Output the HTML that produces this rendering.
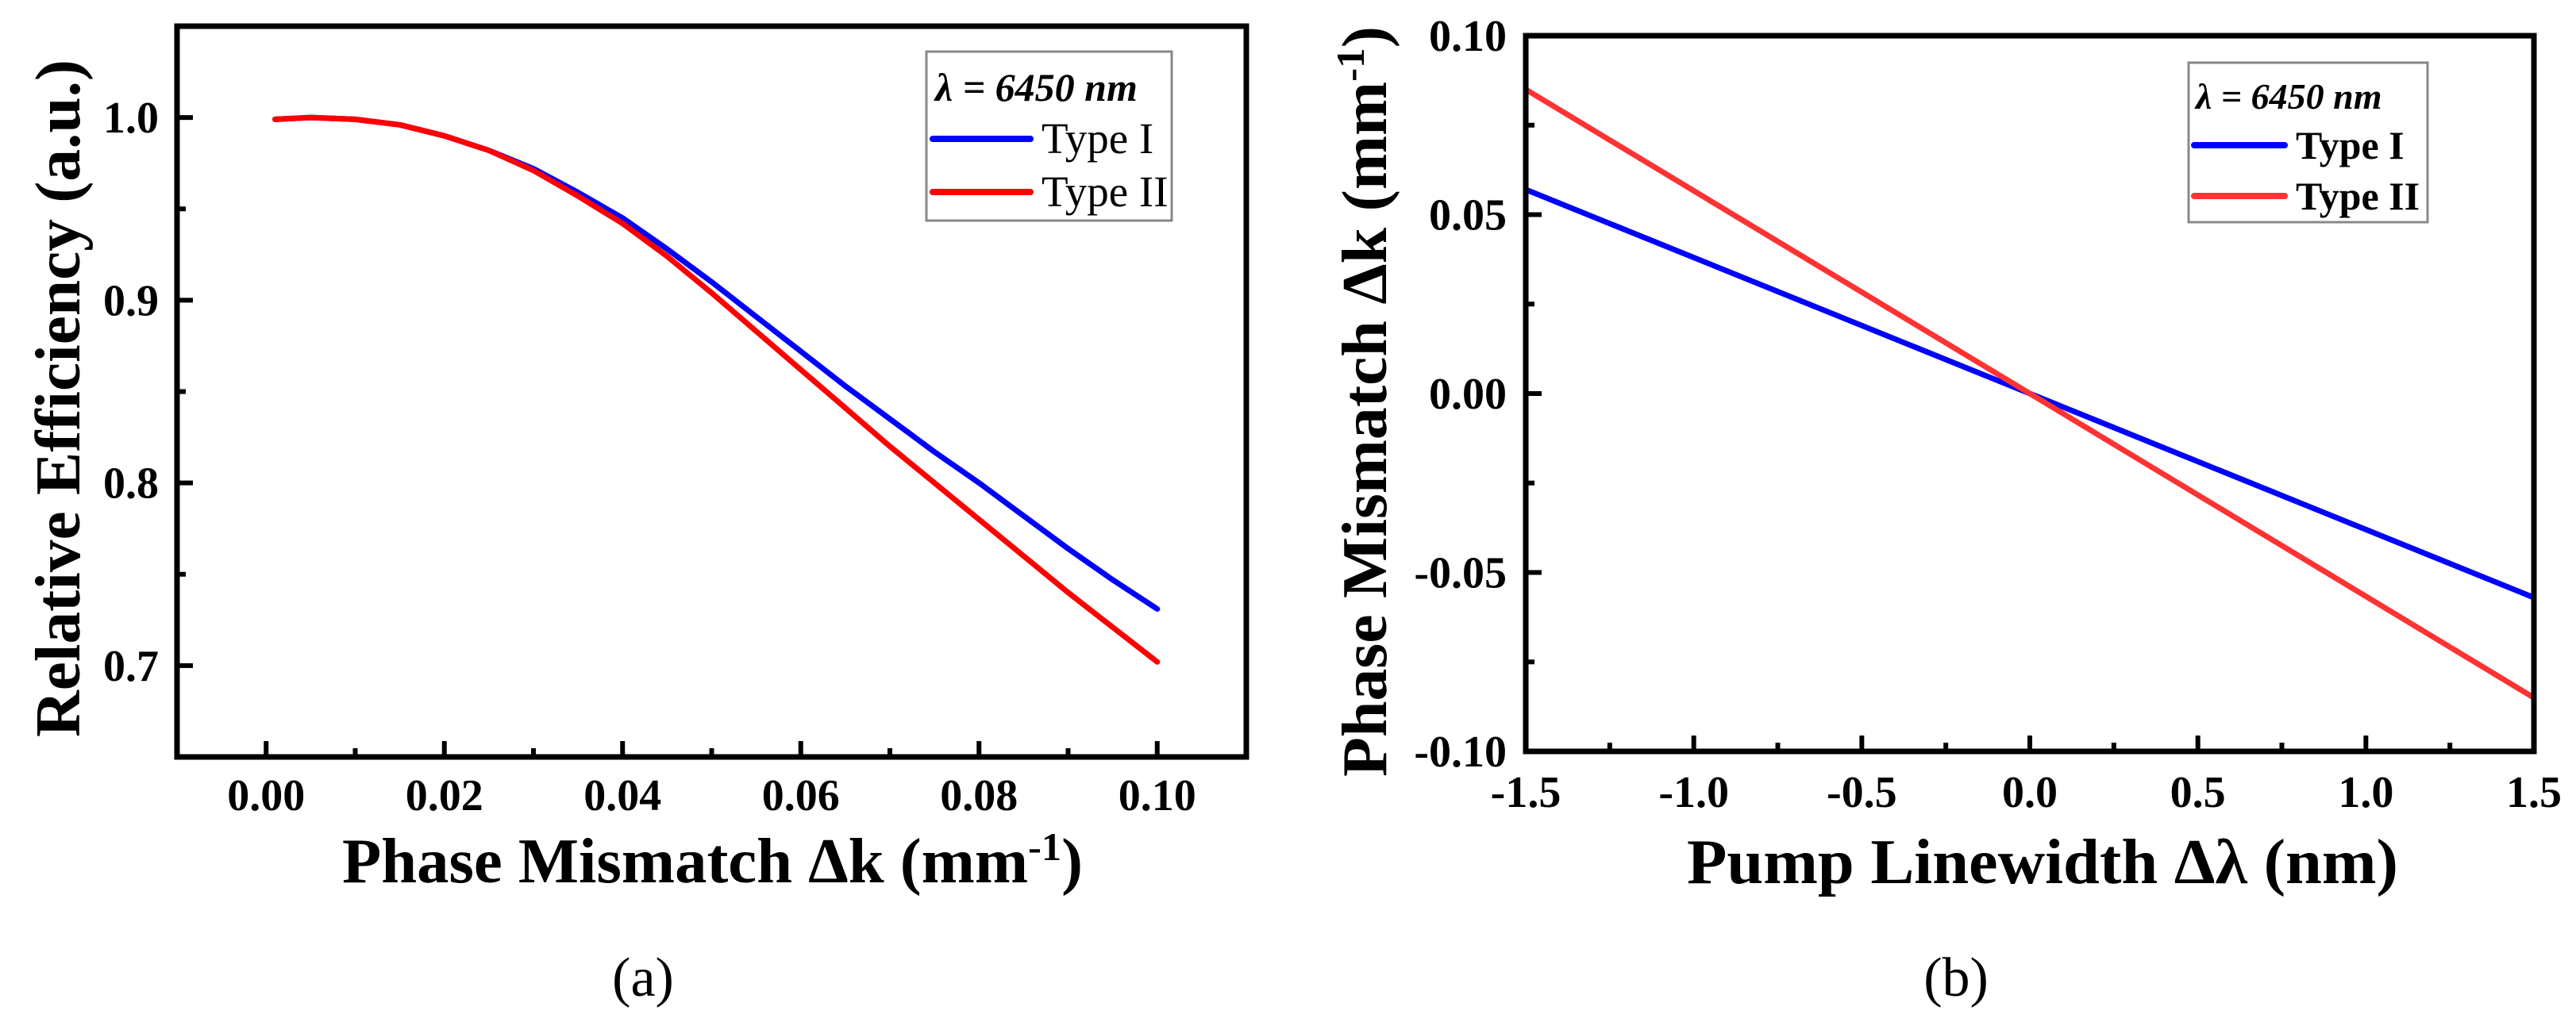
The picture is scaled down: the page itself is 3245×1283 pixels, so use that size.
<!DOCTYPE html>
<html><head><meta charset="utf-8"><style>
html,body{margin:0;padding:0;background:#fff;}
svg{display:block;font-family:"Liberation Serif",serif;}
</style></head><body>
<svg id="fig" width="3245" height="1283" viewBox="0 0 3245 1283" xmlns="http://www.w3.org/2000/svg">
<rect width="3245" height="1283" fill="#fff"/>
<g id="pa"></g>
<g id="pb"></g>
<g font-family="Liberation Serif, serif">
<text x="431" y="1112" font-size="80" font-weight="bold" textLength="933" lengthAdjust="spacingAndGlyphs">Phase Mismatch Δk (mm<tspan dy="-28" font-size="50">-1</tspan><tspan dy="28">)</tspan></text>
<text transform="translate(100,502) rotate(-90)" text-anchor="middle" font-size="80" font-weight="bold" textLength="854" lengthAdjust="spacingAndGlyphs">Relative Efficiency (a.u.)</text>
<text x="810" y="1255" text-anchor="middle" font-size="70">(a)</text>
<g>
<rect x="1167" y="65" width="309" height="213" fill="#fff" stroke="#888" stroke-width="3"/>
<text x="1178" y="127" font-size="50" font-weight="bold" font-style="italic">λ = 6450 nm</text>
<line x1="1175" x2="1298" y1="175" y2="175" stroke="#0000ff" stroke-width="8" stroke-linecap="round"/>
<text x="1312" y="193" font-size="55">Type I</text>
<line x1="1175" x2="1298" y1="242" y2="242" stroke="#ff0000" stroke-width="8" stroke-linecap="round"/>
<text x="1312" y="260" font-size="55">Type II</text>
</g>
<text x="2125" y="1113" font-size="80" font-weight="bold" textLength="896" lengthAdjust="spacingAndGlyphs">Pump Linewidth Δλ (nm)</text>
<text transform="translate(1746,506) rotate(-90)" text-anchor="middle" font-size="80" font-weight="bold" textLength="946" lengthAdjust="spacingAndGlyphs">Phase Mismatch Δk (mm<tspan dy="-28" font-size="50">-1</tspan><tspan dy="28">)</tspan></text>
<text x="2464" y="1255" text-anchor="middle" font-size="70">(b)</text>
<g>
<rect x="2757" y="79" width="301" height="201" fill="#fff" stroke="#888" stroke-width="3"/>
<text x="2766" y="137" font-size="46" font-weight="bold" font-style="italic">λ = 6450 nm</text>
<line x1="2764" x2="2878" y1="183" y2="183" stroke="#0000ff" stroke-width="8" stroke-linecap="round"/>
<text x="2892" y="200" font-size="50" font-weight="bold">Type I</text>
<line x1="2764" x2="2878" y1="247" y2="247" stroke="#ff3333" stroke-width="8" stroke-linecap="round"/>
<text x="2892" y="264" font-size="50" font-weight="bold">Type II</text>
</g>
</g>
</svg>
<script>
// Panel (a) data
const aX = [0.001,0.005,0.01,0.015,0.02,0.025,0.03,0.035,0.04,0.045,0.05,0.055,0.06,0.065,0.07,0.075,0.08,0.085,0.09,0.095,0.1];
const aType1 = [0.999,1.0,0.999,0.996,0.99,0.982,0.972,0.959,0.945,0.928,0.91,0.891,0.872,0.853,0.835,0.817,0.8,0.782,0.764,0.747,0.731];
const aType2 = [0.999,1.0,0.999,0.996,0.99,0.982,0.971,0.957,0.942,0.924,0.904,0.883,0.862,0.841,0.82,0.8,0.78,0.76,0.74,0.721,0.702];
const aXTicks = [0,0.02,0.04,0.06,0.08,0.10];
const aXTickLabels = ["0.00","0.02","0.04","0.06","0.08","0.10"];
const aYTicks = [0.7,0.8,0.9,1.0];
const aYTickLabels = ["0.7","0.8","0.9","1.0"];
// Panel (b) data
const bX = [-1.5,0,1.5];
const bType1 = [0.057,0,-0.057];
const bType2 = [0.085,0,-0.085];
const bXTicks = [-1.5,-1.0,-0.5,0,0.5,1.0,1.5];
const bXTickLabels = ["-1.5","-1.0","-0.5","0.0","0.5","1.0","1.5"];
const bYTicks = [-0.10,-0.05,0,0.05,0.10];
const bYTickLabels = ["-0.10","-0.05","0.00","0.05","0.10"];

const NS="http://www.w3.org/2000/svg";
function mk(parent,tag,attrs,text){const e=document.createElementNS(NS,tag);for(const k in attrs)e.setAttribute(k,attrs[k]);if(text!==undefined)e.textContent=text;parent.appendChild(e);return e;}

function panel(g,cfg){
  const sx=v=>cfg.L+(v-cfg.x0)/(cfg.x1-cfg.x0)*(cfg.R-cfg.L);
  const sy=v=>cfg.B-(v-cfg.y0)/(cfg.y1-cfg.y0)*(cfg.B-cfg.T);
  cfg.series.forEach(s=>{
    const d=s.y.map((v,i)=>(i?'L':'M')+sx(cfg.xs[i]).toFixed(1)+','+sy(v).toFixed(1)).join(' ');
    const p=mk(g,'path',{d:d,fill:'none',stroke:s.color,'stroke-width':7,'stroke-linejoin':'round','stroke-linecap':'round'});
    
    
  });
  const fr=mk(g,'rect',{x:cfg.L,y:cfg.T,width:cfg.R-cfg.L,height:cfg.B-cfg.T,fill:'none',stroke:'#000','stroke-width':7});
  
  
  cfg.xt.forEach((v,i)=>{
    const x=sx(v);
    const t=mk(g,'line',{x1:x,x2:x,y1:cfg.B,y2:cfg.B-20,stroke:'#000','stroke-width':6});
    
    
    const l=mk(g,'text',{x:x,y:cfg.xly,'text-anchor':'middle','font-size':56,'font-weight':'bold'},cfg.xtl[i]);
    
    
    if(i<cfg.xt.length-1){
      const xm=sx((v+cfg.xt[i+1])/2);
      const m=mk(g,'line',{x1:xm,x2:xm,y1:cfg.B,y2:cfg.B-11,stroke:'#000','stroke-width':6});
      
      
    }
  });
  cfg.yt.forEach((v,i)=>{
    const y=sy(v);
    const t=mk(g,'line',{x1:cfg.L,x2:cfg.L+20,y1:y,y2:y,stroke:'#000','stroke-width':6});
    
    
    const l=mk(g,'text',{x:cfg.ylx,y:y+19,'text-anchor':'end','font-size':56,'font-weight':'bold'},cfg.ytl[i]);
    
    
  });
  cfg.ymin.forEach(v=>{
    const y=sy(v);
    const m=mk(g,'line',{x1:cfg.L,x2:cfg.L+11,y1:y,y2:y,stroke:'#000','stroke-width':6});
    
    
  });
}

panel(document.getElementById('pa'),{L:223,R:1570,T:33,B:954,x0:-0.01,x1:0.11,y0:0.65,y1:1.05,xs:aX,
  series:[{y:aType1,color:'#0000ff',name:'type-i-line'},{y:aType2,color:'#ff0000',name:'type-ii-line'}],
  xt:aXTicks,xtl:aXTickLabels,xly:1021,yt:aYTicks,ytl:aYTickLabels,ylx:200,ymin:[0.75,0.85,0.95]});
panel(document.getElementById('pb'),{L:1922,R:3192,T:45,B:947,x0:-1.5,x1:1.5,y0:-0.1,y1:0.1,xs:bX,
  series:[{y:bType1,color:'#0000ff',name:'type-i-line'},{y:bType2,color:'#ff3333',name:'type-ii-line'}],
  xt:bXTicks,xtl:bXTickLabels,xly:1017,yt:bYTicks,ytl:bYTickLabels,ylx:1898,ymin:[-0.075,-0.025,0.025,0.075]});
</script>
</body></html>
